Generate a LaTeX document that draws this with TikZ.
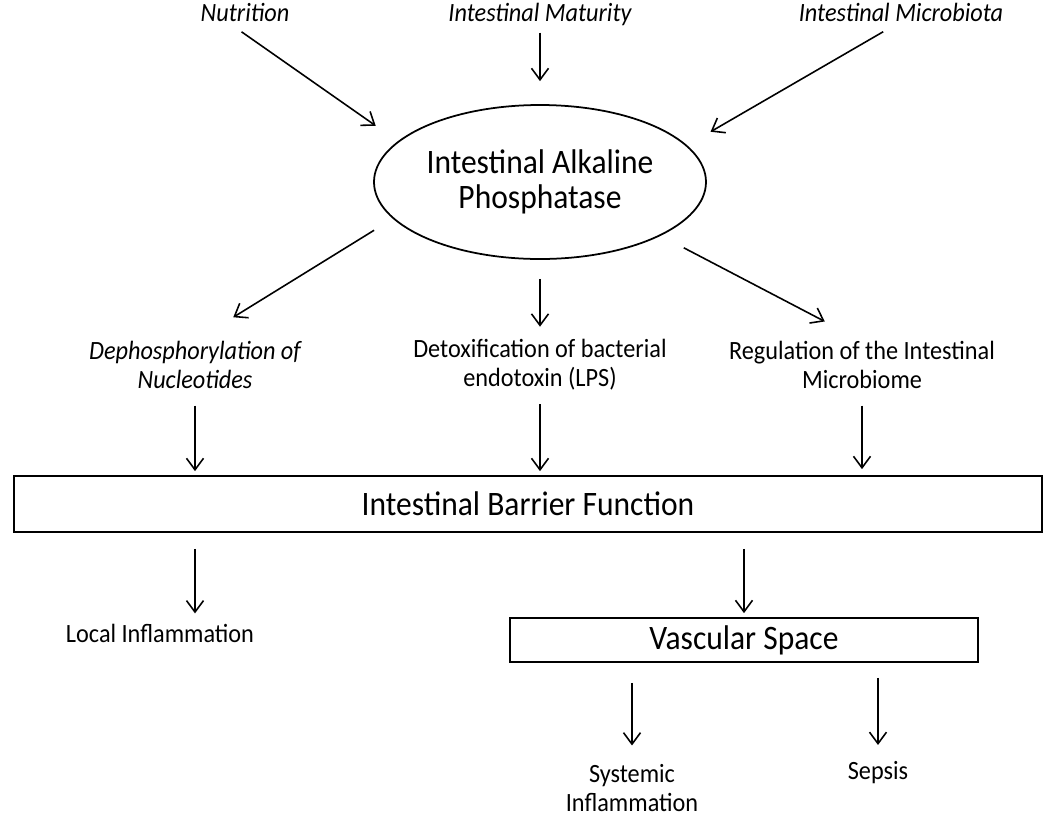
\documentclass[tikz,border=0pt]{standalone}
\usepackage{fontspec}
\setmainfont{Carlito}[FakeStretch=0.92]
\usepackage{tikz}
\usetikzlibrary{
    arrows.meta,
    shapes.geometric
}

\tikzset{
    lbl/.style={inner sep=0pt, align=center, font=\fontsize{15}{16.5}\selectfont},
    cause/.style={inner sep=0pt, text height=10.5pt, text depth=3pt, font=\fontsize{15}{16.5}\selectfont\itshape},
    bigbox/.style={draw, line width=1pt, inner sep=0pt, font=\fontsize{19.5}{20}\selectfont},
    arr/.style={-{Straight Barb[length=2.3mm,width=3.4mm]}, line width=0.9pt}
}

\begin{document}
\begin{tikzpicture}
                                \useasboundingbox (0, 0) rectangle (21, -16.44);
                                \node[cause] (nutri) at (4.9, -0.3) {Nutrition};
                                \node[cause] (matur) at (10.8, -0.3) {Intestinal Maturity};
                                \node[cause] (micro) at (18.02, -0.3) {Intestinal Microbiota};
                                \node[bigbox, ellipse, align=center, minimum width=6.64cm, minimum height=3.08cm] (iap) at (10.8, -3.64) {Intestinal Alkaline\\Phosphatase};
                                \node[lbl, font=\fontsize{15}{16.5}\selectfont\itshape] (deph) at (3.9, -7.3) {Dephosphorylation of\\Nucleotides};
                                \node[lbl] (detox) at (10.8, -7.3) {Detoxification of bacterial\\endotoxin (LPS)};
                                \node[lbl] (regul) at (17.24, -7.3) {Regulation of the Intestinal\\Microbiome};
                                \node[bigbox, minimum width=20.56cm, minimum height=1.12cm] (barrier) at (10.56, -10.08) {Intestinal Barrier Function};
                                \node[lbl] (local) at (3.2, -12.66) {Local Inflammation};
                                \node[bigbox, minimum width=9.36cm, minimum height=0.88cm] (vasc) at (14.88, -12.8) {Vascular Space};
                                \node[lbl] (syst) at (12.64, -15.76) {Systemic\\Inflammation};
                                \node[lbl] (sepsis) at (17.56, -15.46) {Sepsis};
                                % into the enzyme
                                \draw[arr, shorten <=0.16cm, shorten >=0.54cm] ([xshift=-0.2cm]nutri.south) -- (iap.164);
                                \draw[arr, shorten <=0.11cm, shorten >=0.46cm] (matur.south) -- (iap.north);
                                \draw[arr, shorten <=0.18cm, shorten >=0.54cm] ([xshift=-0.2cm]micro.south) -- (iap.14);
                                % out of the enzyme
                                \draw[arr, shorten <=0.44cm, shorten >=0.9cm] (iap.194) -- (deph.north);
                                \draw[arr, shorten <=0.38cm, shorten >=0.25cm] (iap.south) -- (detox.north);
                                \draw[arr, shorten <=0.52cm, shorten >=0.84cm] (iap.336) -- (regul.north);
                                % down to the barrier
                                \draw[arr, shorten <=0.33cm, shorten >=0.08cm] (deph.south) -- (barrier.north -| deph.south);
                                \draw[arr, shorten <=0.27cm, shorten >=0.08cm] (detox.south) -- (barrier.north -| detox.south);
                                \draw[arr, shorten <=0.33cm, shorten >=0.12cm] (regul.south) -- (barrier.north -| regul.south);
                                % below the barrier
                                \draw[arr, shorten <=0.32cm, shorten >=0.2cm] (barrier.south -| deph.south) -- (local.north -| deph.south);
                                \draw[arr, shorten <=0.32cm, shorten >=0.08cm] (barrier.south -| vasc.north) -- (vasc.north);
                                \draw[arr, shorten <=0.4cm, shorten >=0.37cm] (vasc.south -| syst.north) -- (syst.north);
                                \draw[arr, shorten <=0.3cm, shorten >=0.33cm] (vasc.south -| sepsis.north) -- (sepsis.north);
                            \end{tikzpicture}
\end{document}
